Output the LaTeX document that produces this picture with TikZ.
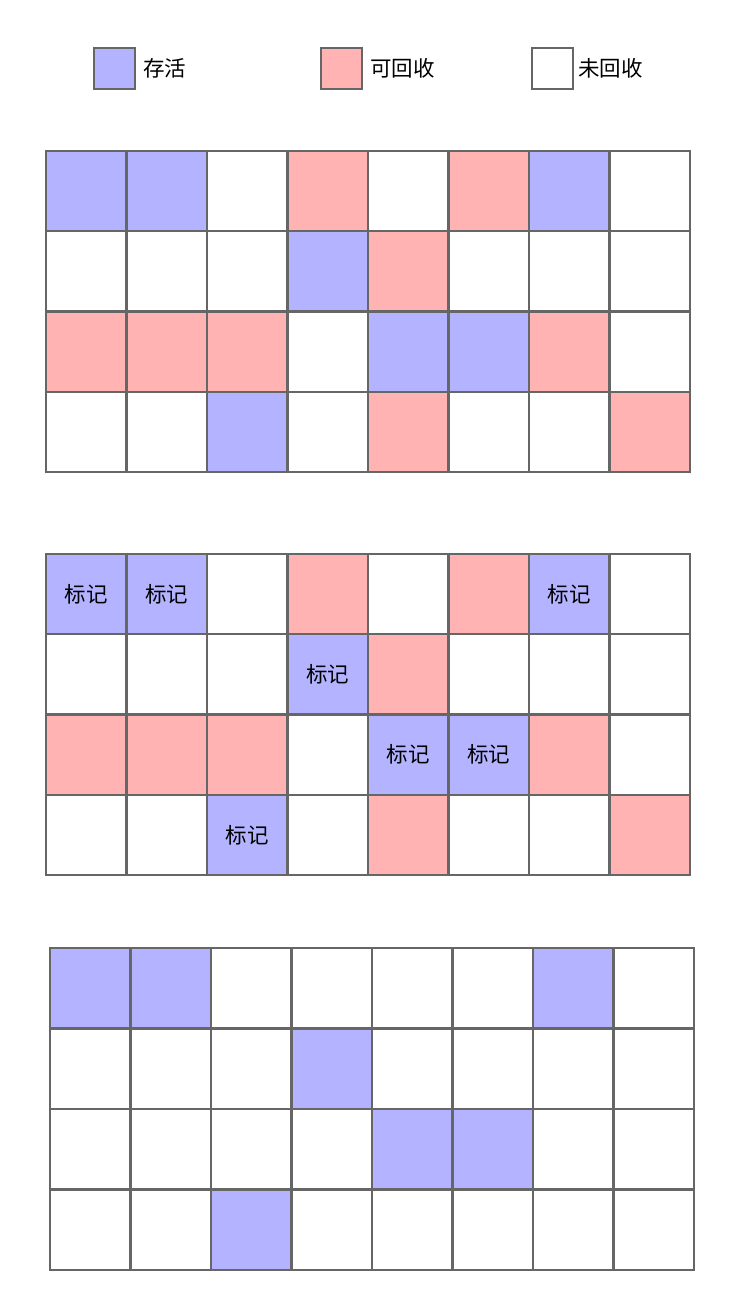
\documentclass[tikz,border=0pt]{standalone}
\usepackage{fontspec}
\setmainfont{Noto Sans CJK SC}
\definecolor{cB}{HTML}{B3B3FF}
\definecolor{cP}{HTML}{FFB3B3}
\definecolor{cW}{HTML}{FFFFFF}
\definecolor{edgegray}{HTML}{666666}
\tikzset{
  cell/.style={draw=edgegray,line width=2.4pt,minimum size=80.5pt,inner sep=0pt,outer sep=0pt,anchor=north west},
  legbox/.style={draw=edgegray,line width=2.4pt,minimum size=41pt,inner sep=0pt},
  txt/.style={font=\fontsize{21.5}{25}\selectfont,inner sep=0pt},
}
\begin{document}
\begin{tikzpicture}[x=1pt,y=-1pt]
\useasboundingbox (0,0) rectangle (742,1304);
% legend
\node[legbox,fill=cB] (l1) at (114.5,68.5) {};
\node[txt,anchor=west] (lt1) at (143,68.5) {存活};
\node[legbox,fill=cP] (l2) at (341.5,68.5) {};
\node[txt,anchor=west] (lt2) at (370,68.5) {可回收};
\node[legbox,fill=cW] (l3) at (552.5,68.5) {};
\node[txt,anchor=west] (lt3) at (578,68.5) {未回收};
% grid 1
\foreach \row [count=\r from 0] in {{B,B,W,P,W,P,B,W},{W,W,W,B,P,W,W,W},{P,P,P,W,B,B,P,W},{W,W,B,W,P,W,W,P}}{
  \foreach \c [count=\k from 0] in \row {
    \node[cell,fill=c\c] (ga-\r-\k) at (46+\k*80.5,151+\r*80.25) {};
  }
}
% grid 2
\foreach \row [count=\r from 0] in {{B,B,W,P,W,P,B,W},{W,W,W,B,P,W,W,W},{P,P,P,W,B,B,P,W},{W,W,B,W,P,W,W,P}}{
  \foreach \c [count=\k from 0] in \row {
    \node[cell,fill=c\c] (gb-\r-\k) at (46+\k*80.5,554+\r*80.25) {};
  }
}
\foreach \p in {0-0,0-1,0-6,1-3,2-4,2-5,3-2}{
  \node[txt] (tb-\p) at (gb-\p) {标记};
}
% grid 3
\foreach \row [count=\r from 0] in {{B,B,W,W,W,W,B,W},{W,W,W,B,W,W,W,W},{W,W,W,W,B,B,W,W},{W,W,B,W,W,W,W,W}}{
  \foreach \c [count=\k from 0] in \row {
    \node[cell,fill=c\c] (gc-\r-\k) at (50+\k*80.5,948+\r*80.5) {};
  }
}
\end{tikzpicture}
\end{document}
